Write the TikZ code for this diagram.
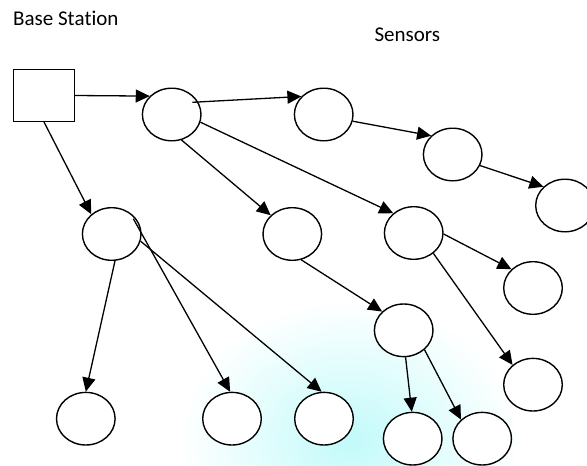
\documentclass[tikz,border=0pt]{standalone}
\usepackage{fontspec}
\setmainfont{Carlito}[Ligatures=NoCommon,Contextuals=NoAlternate,RawFeature={-dlig}]
\usetikzlibrary{arrows.meta,shapes.geometric}
\definecolor{haze}{RGB}{194,250,250}
\begin{document}
\begin{tikzpicture}[x=1pt,y=-1pt,
  sensor/.style={ellipse,draw,line width=1.4pt,minimum width=58.6pt,minimum height=52.6pt,inner sep=0pt,fill=white},
  basebox/.style={rectangle,draw,line width=1.4pt,minimum width=60.6pt,minimum height=51.6pt,inner sep=0pt},
  link/.style={line width=1.3pt,-{Triangle[length=14pt,width=13pt]}},
  lbl/.style={font=\fontsize{21}{25}\selectfont,inner sep=0pt,anchor=base west}]
\useasboundingbox (0,0) rectangle (587,466);
\begin{scope}
\clip (0,0) rectangle (587,466);
\shade[inner color=haze, outer color=white] (180,300) rectangle (520,580);
\end{scope}
% labels
\node[lbl] (bs) at (13,25) {Base Sta\kern0pt tion};
\node[lbl] (sn) at (374.3,41.7) {Sensors};
% nodes
\node[basebox] (base) at (44,95.5) {};
\node[sensor] (A) at (171.7,114.5) {};
\node[sensor] (B) at (323.7,114.5) {};
\node[sensor] (C) at (452.7,154.5) {};
\node[sensor] (D) at (565,205.5) {};
\node[sensor] (E) at (413.7,233) {};
\node[sensor] (F) at (111.7,234) {};
\node[sensor] (G) at (292.3,234) {};
\node[sensor] (H) at (533,288) {};
\node[sensor] (I) at (403.7,330.3) {};
\node[sensor] (J) at (533,384.7) {};
\node[sensor] (K) at (85.8,418.7) {};
\node[sensor] (L) at (232,418.7) {};
\node[sensor] (M) at (324,418.7) {};
\node[sensor] (N) at (412.7,438.7) {};
\node[sensor] (O) at (482.2,438.7) {};
% links
\draw[link] (base.east) -- (A.140);
\draw[link] (base.south) -- (F.136);
\draw[link] ([shift={(20.6,-12.2)}]A.center) -- (B.141);
\draw[link] (B.-13) -- (C.139);
\draw[link] (C.-22) -- (D.139);
\draw[link] (A.-69) -- (G.139);
\draw[link] (A.-15) -- (E.136);
\draw[link] (E.-2) -- (H.139);
\draw[link] (E.-46) -- (J.136);
\draw[link] (G.-71) -- (I.139);
\draw[link] (I.-86) -- (N.92);
\draw[link] (I.-43) -- (O.138);
\draw[link] (F.-83) -- (K.90);
\draw[link] ([shift={(21.6,-15.3)}]F.center) -- (L.94);
\draw[link] (F.-14) -- (M.95);
\end{tikzpicture}
\end{document}
